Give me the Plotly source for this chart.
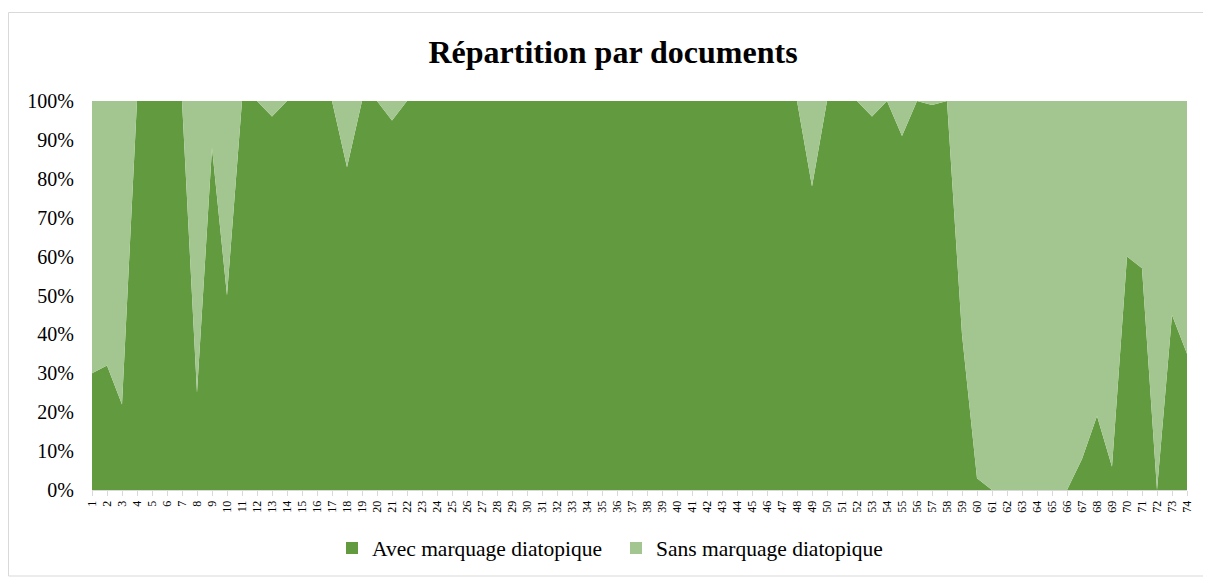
import plotly.graph_objects as go

categories = [str(i) for i in range(1, 75)]
avec = [30, 32, 22, 100, 100, 100, 100, 25, 88, 50,
        100, 100, 96, 100, 100, 100, 100, 83, 100, 100,
        95, 100, 100, 100, 100, 100, 100, 100, 100, 100,
        100, 100, 100, 100, 100, 100, 100, 100, 100, 100,
        100, 100, 100, 100, 100, 100, 100, 100, 78, 100,
        100, 100, 96, 100, 91, 100, 99, 100, 40, 3,
        0, 0, 0, 0, 0, 0, 8, 19, 6, 60,
        57, 0, 45, 35]
sans = [100 - v for v in avec]
series_names = ["Avec marquage diatopique", "Sans marquage diatopique"]

dark = "#629B3F"
light = "#A3C590"
font_family = "Liberation Serif, Times New Roman, serif"

fig = go.Figure()
for name, vals, col in [(series_names[0], avec, dark), (series_names[1], sans, light)]:
    fig.add_trace(go.Scatter(x=categories, y=vals, name=name,
                             stackgroup="one", mode="none", fillcolor=col,
                             line=dict(width=0), showlegend=False))
for name, col in [(series_names[0], dark), (series_names[1], light)]:
    fig.add_trace(go.Scatter(x=[None], y=[None], name=name, mode="markers",
                             marker=dict(symbol="square", size=12, color=col)))

OFF = 8  # page body margin
W, H = 1211 - OFF, 577 - OFF
L, T = 92 - OFF, 101 - OFF
R = W - (1187 - OFF)
B = H - (490 - OFF)
pw, ph = W - L - R, H - T - B

def px_x(p):
    return (p - OFF - L) / pw

def px_y(p):
    return (H - B - (p - OFF)) / ph

fig.update_layout(
    width=W, height=H,
    margin=dict(l=L, r=R, t=T, b=B, autoexpand=False),
    paper_bgcolor="white", plot_bgcolor="white",
    font=dict(family=font_family, color="#000000"),
    title=dict(text="<b>Répartition par documents</b>", x=(613 - OFF) / W, xref="container",
               xanchor="center", y=1 - (52 - OFF) / H, yanchor="middle",
               font=dict(size=32, family=font_family, color="#000000")),
    showlegend=True,
    legend=dict(orientation="h", x=px_x(332), xref="paper", xanchor="left",
                y=px_y(548), yanchor="middle", font=dict(size=21.5, family=font_family),
                traceorder="normal", itemwidth=30, tracegroupgap=0,
                entrywidth=239, entrywidthmode="pixels"),
    xaxis=dict(type="category", tickangle=-90, tickfont=dict(size=12, family=font_family),
               showgrid=False, showline=True, linecolor="#D9D9D9", linewidth=1,
               ticks="outside", ticklen=5, tickcolor="#D9D9D9", range=[0, 73],
               dtick=1, automargin=False),
    yaxis=dict(range=[0, 100], dtick=10, ticksuffix="%", showgrid=False,
               tickfont=dict(size=20, family=font_family), zeroline=False,
               showline=False, ticks="", automargin=False, ticklabelstandoff=17),
    shapes=[dict(type="rect", xref="paper", yref="paper",
                 x0=px_x(8.5), x1=px_x(1203.5), y0=px_y(576), y1=px_y(12.5),
                 line=dict(color="#D9D9D9", width=1), fillcolor="rgba(0,0,0,0)",
                 layer="below")],
)

fig.write_html("out.html")
